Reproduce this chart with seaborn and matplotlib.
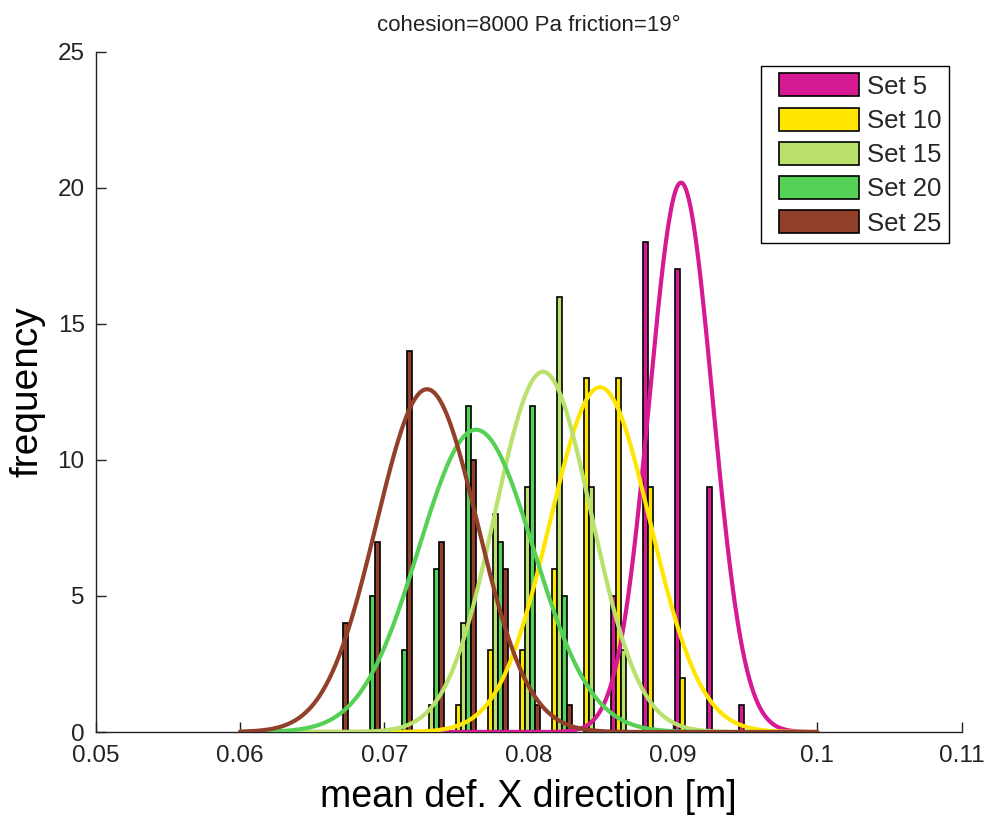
import numpy as np
import pandas as pd
import matplotlib
matplotlib.use("Agg")
import matplotlib.pyplot as plt
import matplotlib.patches as mpatches
from matplotlib.legend_handler import HandlerPatch
import seaborn as sns

# bin centres shared by all sets (grouped bars)
bin_centers = [0.06662, 0.06884, 0.07105, 0.07327, 0.07549, 0.07770, 0.07992,
               0.08214, 0.08436, 0.08657, 0.08879, 0.09101, 0.09322, 0.09544]

set_names = ["Set 5", "Set 10", "Set 15", "Set 20", "Set 25"]
counts_set5 = [0, 0, 0, 0, 0, 0, 0, 0, 0, 5, 18, 17, 9, 1]
counts_set10 = [0, 0, 0, 0, 1, 3, 3, 6, 13, 13, 9, 2, 0, 0]
counts_set15 = [0, 0, 0, 1, 4, 8, 9, 16, 9, 3, 0, 0, 0, 0]
counts_set20 = [0, 5, 3, 6, 12, 7, 12, 5, 0, 0, 0, 0, 0, 0]
counts_set25 = [4, 7, 14, 7, 10, 6, 1, 1, 0, 0, 0, 0, 0, 0]
all_counts = [counts_set5, counts_set10, counts_set15, counts_set20, counts_set25]

# normal fit parameters (mean, std)
fit_mu = [0.09055, 0.08494, 0.08099, 0.07635, 0.07295]
fit_sigma = [0.00219, 0.00349, 0.00334, 0.00398, 0.00351]
n_samples = 50

colors = ["#D61A94", "#FFE600", "#B9E16C", "#55D155", "#93402A"]

x_ticks = [0.05, 0.06, 0.07, 0.08, 0.09, 0.10, 0.11]
x_ticklabels = ["0.05", "0.06", "0.07", "0.08", "0.09", "0.1", "0.11"]
y_ticks = [0, 5, 10, 15, 20, 25]

sns.set_theme(style="white")
plt.rcParams["font.family"] = ["Liberation Sans", "DejaVu Sans"]

fig = plt.figure(figsize=(9.87, 8.17), dpi=100)
ax = fig.add_axes([0.097, 0.104, 0.8774, 0.8326])

centers = np.array(bin_centers)
bin_w = np.mean(np.diff(centers))
slot = bin_w * 0.152

# grouped bars
handles = []
for i, (name, cnt) in enumerate(zip(set_names, all_counts)):
    cnt = np.array(cnt)
    mask = cnt > 0
    bars = ax.bar(centers[mask] + (i - 2) * slot, cnt[mask], width=slot,
                  color=colors[i], edgecolor="black", linewidth=1.2,
                  zorder=2, label=name)
    handles.append(bars.patches[0])

# fitted normal curves
xs = np.linspace(0.06, 0.10, 500)
for i, name in enumerate(set_names):
    mu, sd = fit_mu[i], fit_sigma[i]
    ys = n_samples * bin_w * np.exp(-0.5 * ((xs - mu) / sd) ** 2) / (sd * np.sqrt(2 * np.pi))
    df = pd.DataFrame({"x": xs, "y": ys})
    sns.lineplot(data=df, x="x", y="y", ax=ax, color=colors[i], linewidth=3.0,
                 zorder=3 + i, legend=False)

ax.set_xlim(0.05, 0.11)
ax.set_ylim(0, 25)
ax.set_xticks(x_ticks)
ax.set_xticklabels(x_ticklabels)
ax.set_yticks(y_ticks)

for s in ["top", "right"]:
    ax.spines[s].set_visible(False)
for s in ["left", "bottom"]:
    ax.spines[s].set_color("#222222")
    ax.spines[s].set_linewidth(1.0)

ax.tick_params(axis="both", direction="in", length=7, width=1.0,
               bottom=True, left=True, top=False, right=False,
               color="#222222", labelsize=17.5, labelcolor="#222222")
ax.tick_params(axis="x", pad=9)
ax.tick_params(axis="y", pad=8)

ax.set_xlabel("mean def. X direction [m]", fontsize=27, color="black", labelpad=9)
ax.set_ylabel("frequency", fontsize=28, color="black", labelpad=9)
ax.set_title("cohesion=8000 Pa friction=19°", fontsize=16, color="#222222", pad=15)


# legend patch shifted to the right inside its handle box
def shifted_patch(legend, orig_handle, xdescent, ydescent, width, height, fontsize):
    shift = 8
    return mpatches.Rectangle((-xdescent + shift, -ydescent), width - shift, height)


leg = ax.legend(handles=handles, labels=set_names, loc="upper right",
                bbox_to_anchor=(0.9853, 0.979), borderaxespad=0,
                fontsize=18.5, handlelength=3.55, handleheight=1.0,
                handletextpad=0.32, labelspacing=0.35, borderpad=0.28,
                fancybox=False, framealpha=1, edgecolor="black",
                handler_map={mpatches.Rectangle: HandlerPatch(patch_func=shifted_patch)})
leg.get_frame().set_linewidth(1.0)

fig.savefig("out.png", dpi=100)
